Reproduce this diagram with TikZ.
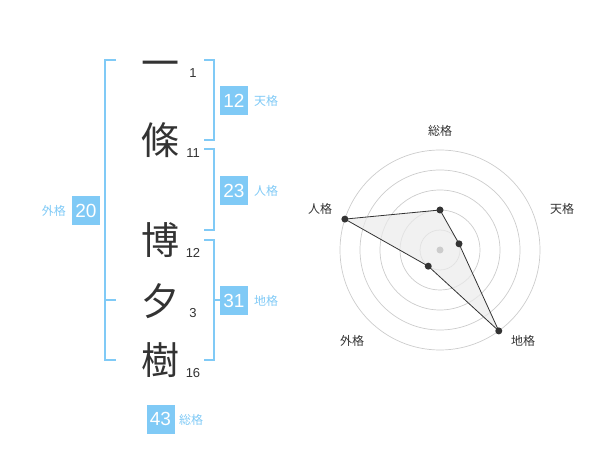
\documentclass[tikz,border=0pt]{standalone}
\usepackage{fontspec}
\setmainfont{Liberation Sans}
\newfontfamily\jp{Noto Sans CJK JP}
\definecolor{kblue}{HTML}{80CAF6}
\definecolor{kdark}{HTML}{333333}
\definecolor{kgrid}{HTML}{CCCCCC}
\begin{document}
\begin{tikzpicture}[x=1pt,y=-1pt,
  kanji/.style={font=\jp\fontsize{38}{38}\selectfont, text=kdark, inner sep=0pt},
  stroke/.style={font=\fontsize{13}{13}\selectfont, text=kdark, inner sep=0pt},
  numbox/.style={fill=kblue, text=white, font=\fontsize{19}{19}\selectfont, minimum width=28pt, minimum height=29pt, inner sep=0pt},
  kaku/.style={font=\jp\fontsize{12}{12}\selectfont, text=kblue, inner sep=0pt},
  rlabel/.style={font=\jp\fontsize{12}{12}\selectfont, text=kdark, inner sep=0pt},
  brk/.style={draw=kblue, line width=2pt},
  vdot/.style={circle, fill=kdark, inner sep=0pt, minimum size=7pt}]
\useasboundingbox (0,0) rectangle (600,470);
% kanji
\node[kanji] (c1) at (160,69) {一};
\node[kanji] (c2) at (160,140) {條};
\node[kanji] (c3) at (160,240) {博};
\node[kanji] (c4) at (160,301) {夕};
\node[kanji] (c5) at (160,360) {樹};
\node[stroke] (n1) at (193,73) {1};
\node[stroke] (n2) at (193,153) {11};
\node[stroke] (n3) at (193,253) {12};
\node[stroke] (n4) at (193,313) {3};
\node[stroke] (n5) at (193,373) {16};
% brackets
\draw[brk] (116,60) -- (105,60) -- (105,360) -- (116,360);
\draw[brk] (105,300) -- (116,300);
\draw[brk] (204,60) -- (214,60) -- (214,140) -- (204,140);
\draw[brk] (204,149) -- (214,149) -- (214,230) -- (204,230);
\draw[brk] (204,240) -- (214,240) -- (214,360) -- (204,360);
\draw[brk] (214,300) -- (220,300);
% boxes
\node[numbox] (b12) at (234,100.5) {12};
\node[kaku, anchor=west] (k12) at (254,101) {天格};
\node[numbox] (b23) at (234,190.5) {23};
\node[kaku, anchor=west] (k23) at (254,191) {人格};
\node[numbox] (b20) at (86,210.5) {20};
\node[kaku, anchor=east] (k20) at (66,211) {外格};
\node[numbox] (b31) at (234,300.5) {31};
\node[kaku, anchor=west] (k31) at (254,301) {地格};
\node[numbox] (b43) at (160.5,419) {43};
\node[kaku, anchor=west] (k43) at (179,420) {総格};
% radar
\begin{scope}[shift={(440,250)}, yscale=-1]
  \foreach \r in {20,40,60,80,100} \draw[kgrid, line width=0.7pt] (0,0) circle (\r);
  \coordinate (p1) at (90:40);
  \coordinate (p2) at (18:20);
  \coordinate (p3) at (-54:100);
  \coordinate (p4) at (234:20);
  \coordinate (p5) at (162:100);
  \fill[black!8, fill opacity=0.7] (p1) -- (p2) -- (p3) -- (p4) -- (p5) -- cycle;
  \draw[kdark, line width=0.8pt] (p1) -- (p2) -- (p3) -- (p4) -- (p5) -- cycle;
  \node[circle, fill=kgrid, inner sep=0pt, minimum size=7pt] (ctr) at (0,0) {};
  \foreach \p in {p1,p2,p3,p4,p5} \node[vdot] (d\p) at (\p) {};
\end{scope}
\node[rlabel] (l1) at (440,131) {総格};
\node[rlabel] (l2) at (562,209) {天格};
\node[rlabel] (l3) at (523,341) {地格};
\node[rlabel] (l4) at (352,341) {外格};
\node[rlabel] (l5) at (320,209) {人格};
\end{tikzpicture}
\end{document}
